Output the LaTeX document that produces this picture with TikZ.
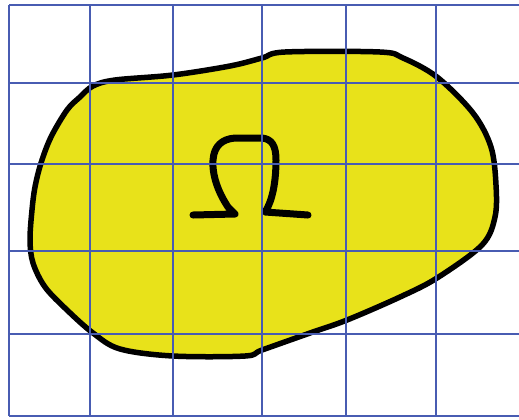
\documentclass[tikz,border=0pt]{standalone}
\begin{document}
\begin{tikzpicture}[x=1bp,y=-1bp,
  gridline/.style={draw=gridblue,line width=1.5bp},
  blob/.style={draw=black,line width=5.5bp,fill=blobyellow,line join=round},
  glyph/.style={draw=black,line width=7bp,line cap=round,line join=round}]
\definecolor{gridblue}{RGB}{72,92,178}
\definecolor{blobyellow}{RGB}{232,226,26}
\useasboundingbox (0,0) rectangle (519,419);
\fill[white] (0,0) rectangle (519,419);
% region Omega
\draw[blob] plot[smooth cycle,tension=0.55] coordinates {
 (93,86) (115,80) (173,75) (230,66) (262,58) (285,52) (380,52) (403,58)
 (437,77) (473,113) (491,147) (496,185) (495,217) (482,245) (437,278)
 (400,297) (347,320) (310,333) (262,350) (245,356) (173,356) (120,349)
 (93,333) (67,310) (45,287) (33,263) (30,240) (32,210) (35,187) (41,163)
 (51,137) (67,110) (80,97)};
% Omega letter
\draw[glyph] (193,215) -- (235,214) -- (228,207)
  .. controls (218,192) and (212,175) .. (213,160)
  .. controls (214,146) and (222,139) .. (235,138)
  -- (262,138)
  .. controls (272,139) and (276,146) .. (276,160)
  .. controls (276,180) and (273,200) .. (265,212)
  -- (308,215);
% grid
\foreach \x in {9,90,173,262,346,436} \draw[gridline] (\x,5) -- (\x,416);
\foreach \y in {5,83,164,251,334,416} \draw[gridline] (9,\y) -- (519,\y);
\end{tikzpicture}
\end{document}
